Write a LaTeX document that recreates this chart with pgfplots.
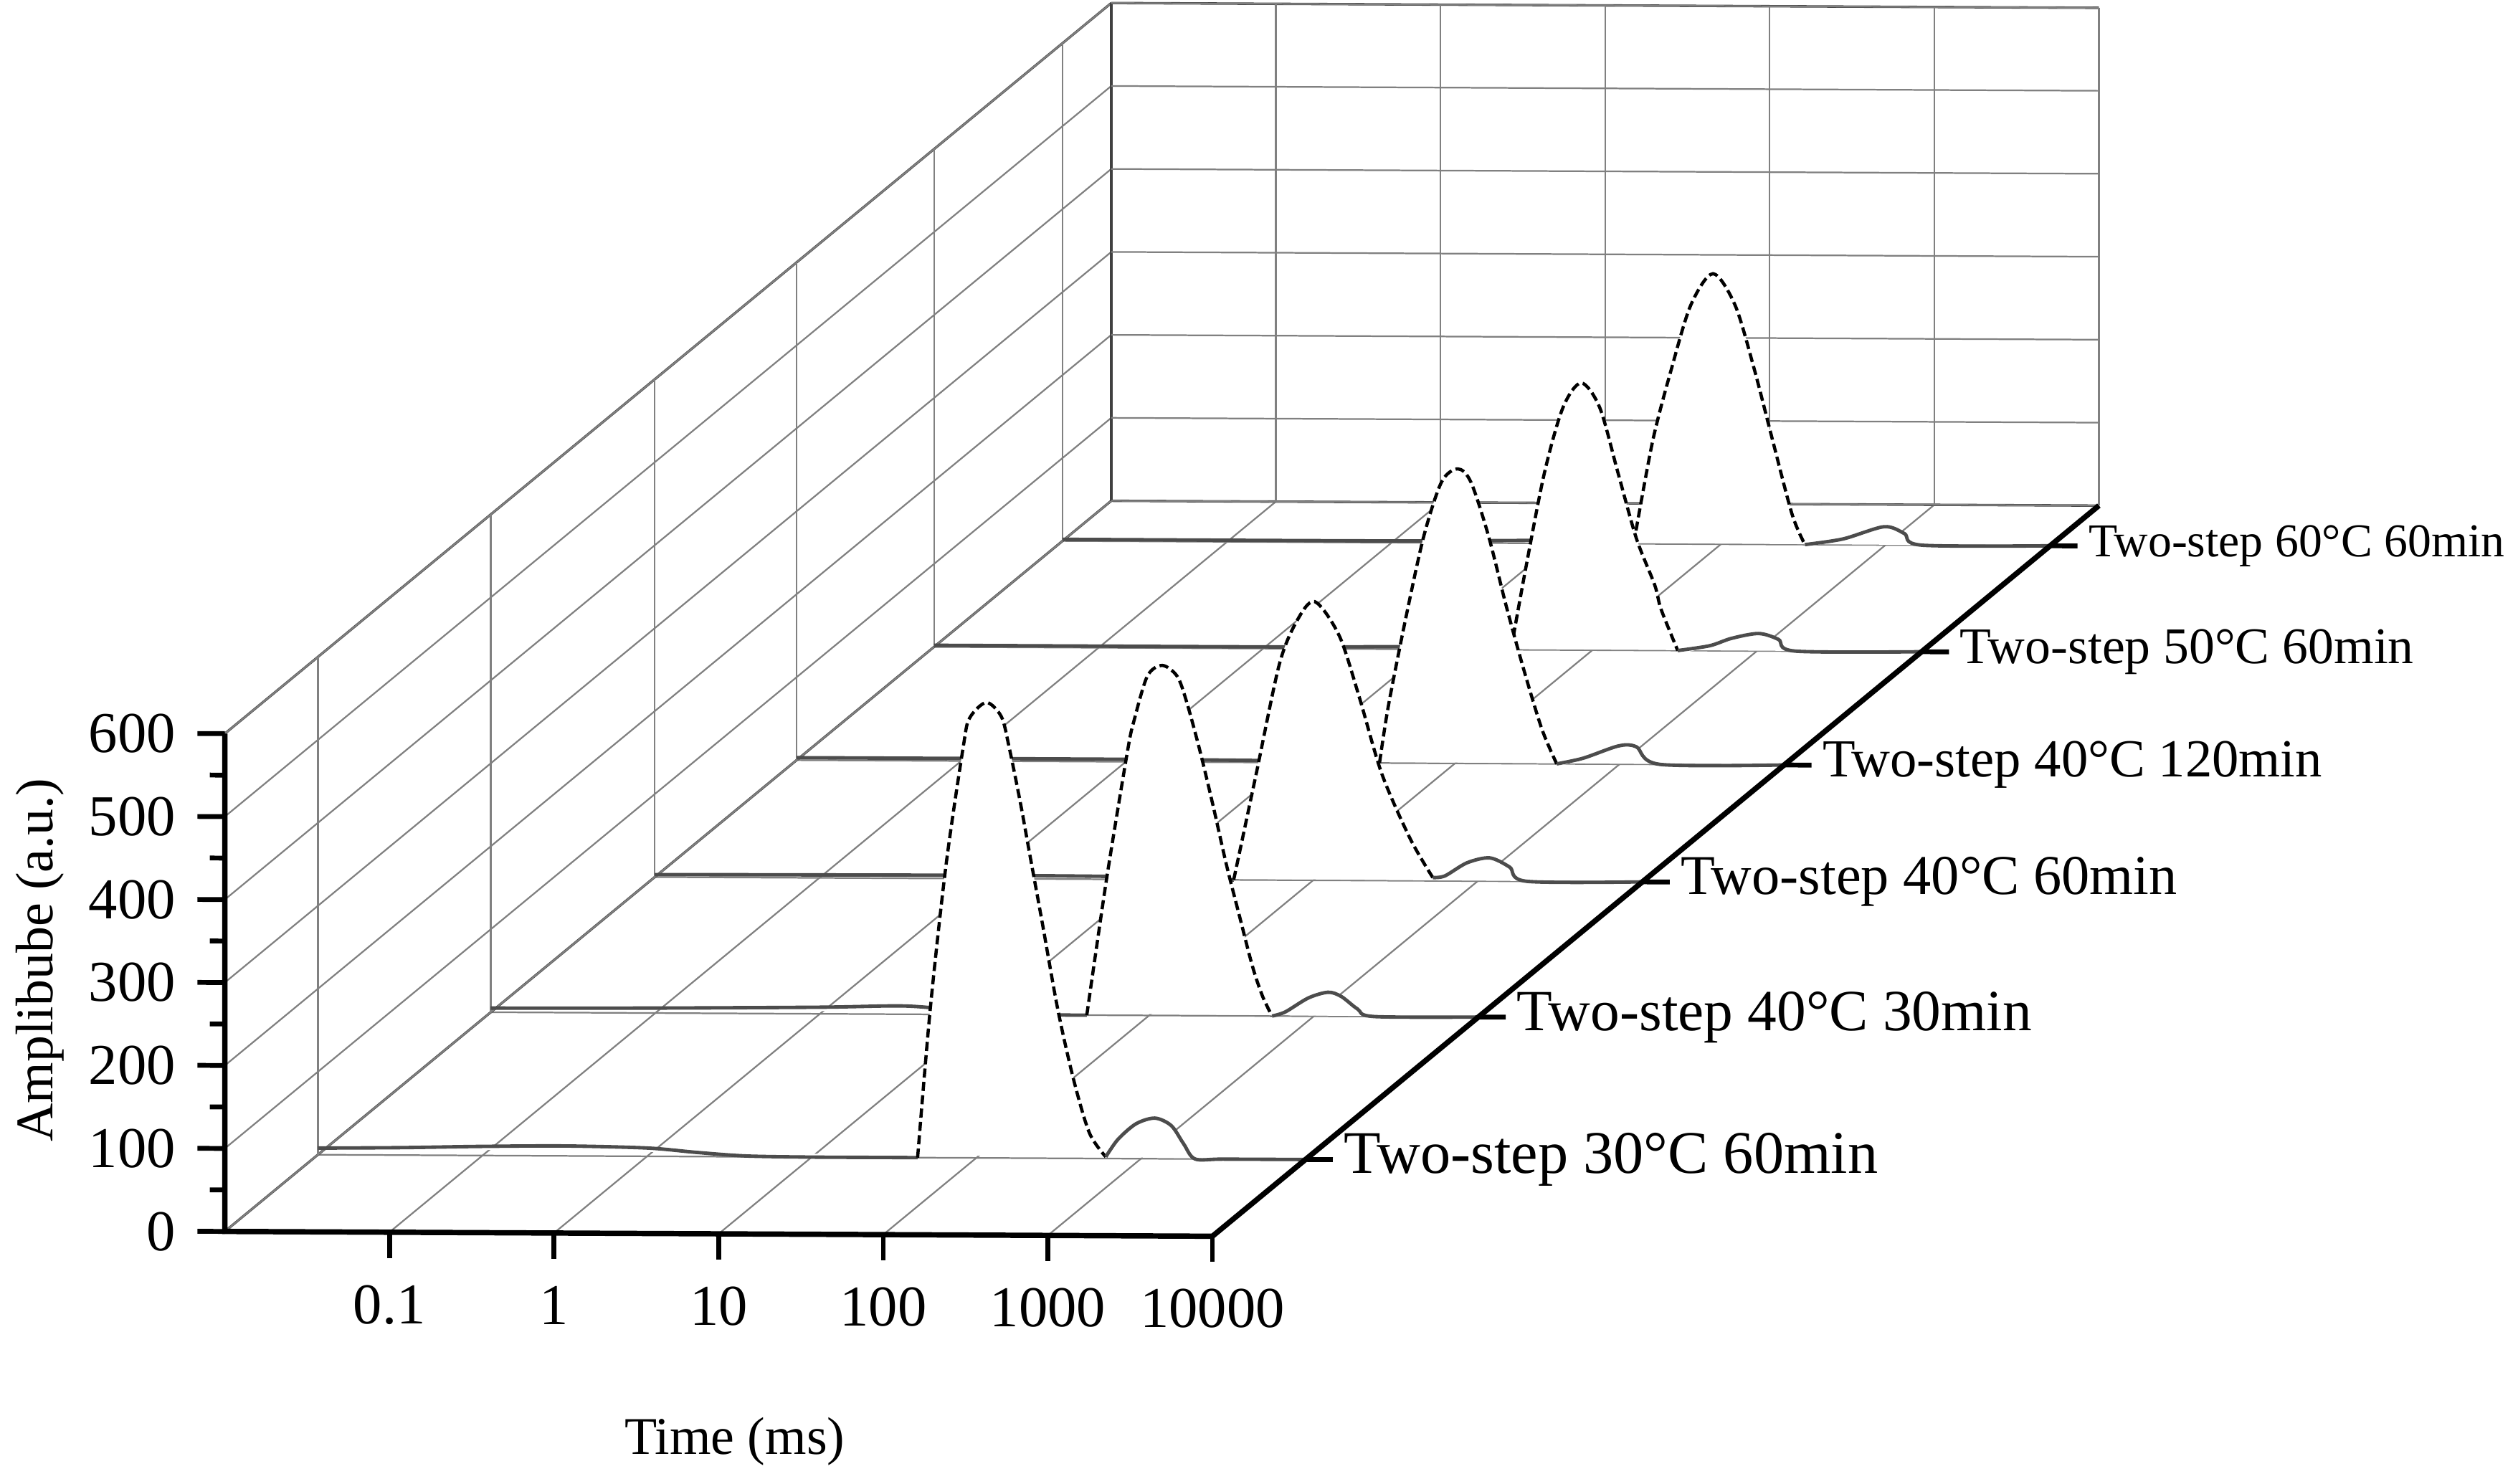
\documentclass[border=0pt]{standalone}
\usepackage{fontspec}
\setmainfont{Liberation Serif}
\usepackage{pgfplots}
\usepackage{pgfplotstable}
\pgfplotsset{compat=1.18}

% columns: t = time (ms), a = amplitude (a.u.)
\pgfplotstableread{
t a
0.01 8
0.0316 9
0.1 11
0.316 12
1 10
2.0 5
3.98 1
10 0
25.1 0
44.0 0
52.5 179
65.5 353
83.4 496
91.0 530
115 549
142 532
158 496
185 429
210 369
251 285
313 179
390 95
486 31
612 2
724 23
933 42
1216 49
1531 40
1820 18
2133 0
3162 0
10000 0
}\Sone

\pgfplotstableread{
t a
0.01 5
0.1 6
1 8
3.16 10
6.31 6
15.8 1
31.6 0
41.8 0
46.8 68
56.2 175
74.1 320
81.1 356
97.5 409
120 422
148 409
169 378
203 320
244 254
294 183
353 121
424 60
488 24
558 0
671 5
927 22
1222 29
1469 24
1845 9
2323 0
10000 0
}\Stwo

\pgfplotstableread{
t a
0.01 3
1 4
10 3
25.1 0
32.9 0
45.2 129
62.1 259
78.9 311
102 336
144 295
190 222
261 129
388 51
533 4
631 6
861 22
1183 28
1563 17
1986 0
10000 0
}\Sthree

\pgfplotstableread{
t a
0.01 3
1 3
10 2
28.2 0
34.8 0
39.4 69
50.5 177
64.7 274
82.8 339
104 355
125 339
160 274
206 188
263 112
337 42
415 0
601 7
986 22
1265 21
1758 0
10000 0
}\Sfour

\pgfplotstableread{
t a
0.01 2
1 2
10 3
25.1 0
32.0 0
39.6 101
51.2 214
66.2 292
85.5 322
111 292
143 214
185 135
239 79
261 50
330 0
516 6
700 15
1023 21
1350 14
1710 0
10000 0
}\Sfive

\pgfplotstableread{
t a
0.01 2
1 2
10 4
20.0 7
26.3 2
29.5 0
38.5 124
50.2 212
65.6 288
89.5 326
122 288
159 212
207 124
271 36
324 0
551 7
979 22
1300 14
1660 0
10000 0
}\Ssix

\pgfplotsset{
  fillw/.style={fill=white, draw=none, smooth, tension=0.5},
  basel/.style={draw=black!70, line width=0.65pt, smooth, tension=0.5},
  peakl/.style={draw=black, line width=0.6pt, dash pattern=on 1.7pt off 0.8pt, smooth, tension=0.5},
}

\begin{document}
\begin{tikzpicture}
\begin{axis}[
  x={(30.75pt,-0.15pt)}, y={(165.6pt,136.5pt)}, z={(0pt,0.155pt)},
  xmin=-2, xmax=4, ymin=0, ymax=1, zmin=0, zmax=600,
  clip=false, no markers,
  xtick={-1,0,1,2,3,4},
  xticklabels={0.1,1,10,100,1000,10000},
  ytick={0.105,0.3,0.485,0.645,0.8,0.945},
  yticklabels={
    {\fontsize{11.3}{12}\selectfont Two-step 30°C 60min},
    {\fontsize{10.9}{12}\selectfont Two-step 40°C 30min},
    {\fontsize{10.5}{12}\selectfont Two-step 40°C 60min},
    {\fontsize{10.0}{12}\selectfont Two-step 40°C 120min},
    {\fontsize{9.6}{12}\selectfont Two-step 50°C 60min},
    {\fontsize{8.8}{12}\selectfont Two-step 60°C 60min}},
  ztick={0,100,...,600},
  major tick length=0pt,
  grid=major,
  major grid style={draw=black!50, line width=0.3pt},
  axis line style={draw=black!75, line width=0.45pt},
  /pgf/number format/assume math mode=true,
  xticklabel style={font=\fontsize{10.8}{12}\selectfont, anchor=north, inner sep=0pt, yshift=-9.7pt},
  zticklabel style={font=\fontsize{10.8}{12}\selectfont, anchor=east, inner sep=0pt, xshift=-9pt},
  yticklabel style={anchor=west, inner sep=0pt, xshift=7pt},
  xlabel={Time (ms)},
  zlabel={Amplibube (a.u.)},
  every axis x label/.style={at={(rel axis cs:0.5,0,0)}, anchor=center, xshift=3pt, yshift=-38.85pt, font=\fontsize{9.9}{12}\selectfont},
  every axis z label/.style={at={(rel axis cs:0,0,0.5)}, xshift=-34.6pt, yshift=4.2pt, anchor=center, rotate=90, font=\fontsize{9.9}{12}\selectfont},
]
% series, back to front
\addplot3[fillw] table[x expr=log10(\thisrow{t}), y expr=0.945, z=a]{\Ssix};
\addplot3[basel, restrict x to domain=-2.1:1.475] table[x expr=log10(\thisrow{t}), y expr=0.945, z=a]{\Ssix};
\addplot3[peakl, restrict x to domain=1.465:2.515] table[x expr=log10(\thisrow{t}), y expr=0.945, z=a]{\Ssix};
\addplot3[basel, restrict x to domain=2.505:4.1] table[x expr=log10(\thisrow{t}), y expr=0.945, z=a]{\Ssix};

\addplot3[fillw] table[x expr=log10(\thisrow{t}), y expr=0.8, z=a]{\Sfive};
\addplot3[basel, restrict x to domain=-2.1:1.51] table[x expr=log10(\thisrow{t}), y expr=0.8, z=a]{\Sfive};
\addplot3[peakl, restrict x to domain=1.50:2.52] table[x expr=log10(\thisrow{t}), y expr=0.8, z=a]{\Sfive};
\addplot3[basel, restrict x to domain=2.515:4.1] table[x expr=log10(\thisrow{t}), y expr=0.8, z=a]{\Sfive};

\addplot3[fillw] table[x expr=log10(\thisrow{t}), y expr=0.645, z=a]{\Sfour};
\addplot3[basel, restrict x to domain=-2.1:1.545] table[x expr=log10(\thisrow{t}), y expr=0.645, z=a]{\Sfour};
\addplot3[peakl, restrict x to domain=1.54:2.62] table[x expr=log10(\thisrow{t}), y expr=0.645, z=a]{\Sfour};
\addplot3[basel, restrict x to domain=2.615:4.1] table[x expr=log10(\thisrow{t}), y expr=0.645, z=a]{\Sfour};

\addplot3[fillw] table[x expr=log10(\thisrow{t}), y expr=0.485, z=a]{\Sthree};
\addplot3[basel, restrict x to domain=-2.1:1.52] table[x expr=log10(\thisrow{t}), y expr=0.485, z=a]{\Sthree};
\addplot3[peakl, restrict x to domain=1.51:2.73] table[x expr=log10(\thisrow{t}), y expr=0.485, z=a]{\Sthree};
\addplot3[basel, restrict x to domain=2.72:4.1] table[x expr=log10(\thisrow{t}), y expr=0.485, z=a]{\Sthree};

\addplot3[fillw] table[x expr=log10(\thisrow{t}), y expr=0.3, z=a]{\Stwo};
\addplot3[basel, restrict x to domain=-2.1:1.625] table[x expr=log10(\thisrow{t}), y expr=0.3, z=a]{\Stwo};
\addplot3[peakl, restrict x to domain=1.62:2.75] table[x expr=log10(\thisrow{t}), y expr=0.3, z=a]{\Stwo};
\addplot3[basel, restrict x to domain=2.74:4.1] table[x expr=log10(\thisrow{t}), y expr=0.3, z=a]{\Stwo};

\addplot3[fillw] table[x expr=log10(\thisrow{t}), y expr=0.105, z=a]{\Sone};
\addplot3[basel, restrict x to domain=-2.1:1.65] table[x expr=log10(\thisrow{t}), y expr=0.105, z=a]{\Sone};
\addplot3[peakl, restrict x to domain=1.64:2.79] table[x expr=log10(\thisrow{t}), y expr=0.105, z=a]{\Sone};
\addplot3[basel, restrict x to domain=2.78:4.1] table[x expr=log10(\thisrow{t}), y expr=0.105, z=a]{\Sone};

% tick marks
\addplot3[black, line width=0.9pt, quiver={u=-0.166, v=0, w=0}] coordinates {(-2,0,0) (-2,0,100) (-2,0,200) (-2,0,300) (-2,0,400) (-2,0,500) (-2,0,600)};
\addplot3[black, line width=0.9pt, quiver={u=-0.091, v=0, w=0}] coordinates {(-2,0,50) (-2,0,150) (-2,0,250) (-2,0,350) (-2,0,450) (-2,0,550)};
\addplot3[black, line width=0.9pt, quiver={u=0, v=0, w=-31}] coordinates {(-1,0,0) (0,0,0) (1,0,0) (2,0,0) (3,0,0) (4,0,0)};
\addplot3[black, line width=0.9pt, quiver={u=0.166, v=0, w=0}] coordinates {(4,0.105,0) (4,0.3,0) (4,0.485,0) (4,0.645,0) (4,0.8,0) (4,0.945,0)};
% main axis lines
\addplot3[black, line width=1pt] coordinates {(-2,0,600) (-2,0,0) (4,0,0) (4,1,0)};
\coordinate (FL) at (axis cs:-2,0,0);
\end{axis}
\pgfresetboundingbox
\path[use as bounding box] ([shift={(-42pt,-47.13pt)}]FL) rectangle ([shift={(428.4pt,230.07pt)}]FL);
\end{tikzpicture}
\end{document}
